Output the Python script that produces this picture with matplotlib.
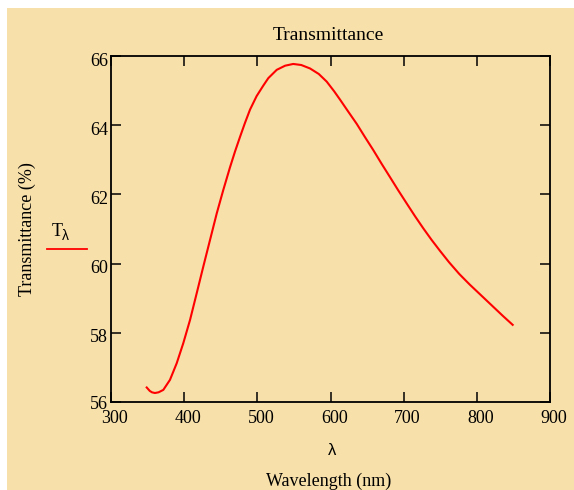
import matplotlib
matplotlib.use("Agg")
import matplotlib.pyplot as plt
import matplotlib.transforms as mtransforms
from matplotlib.patches import Rectangle
from matplotlib.lines import Line2D

# Data
wavelength = [348.8, 353, 356, 360, 365, 371.5, 380.6, 389.8, 398.8, 408, 417.1, 426.1,
              435.3, 444.5, 453.5, 462.6, 469.5, 476.3, 483, 490, 499, 508, 515, 526.5,
              538, 549, 560, 572, 584, 594.8, 605, 613, 624, 635.8, 647, 658.5, 670,
              681.3, 692.5, 704.1, 715.5, 726.8, 738, 749.6, 762, 776, 790, 804, 813,
              822.5, 836, 849]
transmittance = [56.42, 56.32, 56.28, 56.26, 56.28, 56.35, 56.64, 57.12, 57.70, 58.37, 59.14,
                 59.91, 60.68, 61.45, 62.13, 62.78, 63.24, 63.66, 64.06, 64.45, 64.84,
                 65.14, 65.36, 65.60, 65.72, 65.77, 65.74, 65.64, 65.48, 65.26, 64.98,
                 64.74, 64.40, 64.04, 63.66, 63.28, 62.88, 62.50, 62.12, 61.74, 61.37,
                 61.02, 60.69, 60.37, 60.04, 59.70, 59.40, 59.12, 58.94, 58.75, 58.48,
                 58.23]
xticks = [300, 400, 500, 600, 700, 800, 900]
yticks = [56, 58, 60, 62, 64, 66]

W, H = 574, 490
BG = "#F7E0AA"
SERIF = "Liberation Serif"

def fx(x):
    return x / W

def fy(y):
    return 1 - y / H

fig = plt.figure(figsize=(W / 100, H / 100), dpi=100, facecolor="white")
fig.patches.append(Rectangle((fx(7), 0), 1 - fx(7), fy(8), transform=fig.transFigure,
                             facecolor=BG, edgecolor="none", zorder=-10))

ax = fig.add_axes([fx(111), fy(402), fx(550) - fx(111), fy(56) - fy(402)])
ax.set_facecolor(BG)
ax.plot(wavelength, transmittance, color="#FF0000", lw=1.5)
ax.set_xlim(300, 900)
ax.set_ylim(56, 66)
ax.set_xticks(xticks)
ax.set_yticks(yticks)
ax.set_xticklabels([str(v) for v in xticks], fontfamily=SERIF, fontsize=13)
ax.set_yticklabels([str(v) for v in yticks], fontfamily=SERIF, fontsize=13)
ax.tick_params(direction="in", length=7, width=1.1, color="black",
               top=True, right=True, labeltop=False, labelright=False)
ax.tick_params(axis="x", pad=6)
ax.tick_params(axis="y", pad=2)
for s in ax.spines.values():
    s.set_linewidth(1.3)
    s.set_color("black")

offx = mtransforms.ScaledTranslation(4 / 100, 0, fig.dpi_scale_trans)
for lab in ax.get_xticklabels():
    lab.set_transform(lab.get_transform() + offx)
for lab in ax.get_yticklabels():
    dy = 0 if lab.get_text() == "56" else -3
    off = mtransforms.ScaledTranslation(0, dy / 100, fig.dpi_scale_trans)
    lab.set_transform(lab.get_transform() + off)

fig.text(fx(328), fy(35), "Transmittance", ha="center", va="center",
         fontfamily=SERIF, fontsize=14)
fig.text(fx(332), fy(450), "λ", ha="center", va="center",
         fontfamily="Liberation Sans", fontsize=12)
fig.text(fx(329), fy(481), "Wavelength (nm)", ha="center", va="center",
         fontfamily=SERIF, fontsize=13)
fig.text(fx(27), fy(229), "Transmittance (%)", ha="center", va="center",
         rotation=90, fontfamily=SERIF, fontsize=13)

# legend-like label
fig.text(fx(52), fy(231), "T", ha="left", va="center", fontfamily=SERIF, fontsize=13)
fig.text(fx(62), fy(236), "λ", ha="left", va="center", fontfamily="Liberation Sans",
         fontsize=10)
fig.lines.append(Line2D([fx(47), fx(87)], [fy(249), fy(249)], transform=fig.transFigure,
                        color="#FF0000", lw=1.3))

fig.savefig("out.png", dpi=100, facecolor="white")
